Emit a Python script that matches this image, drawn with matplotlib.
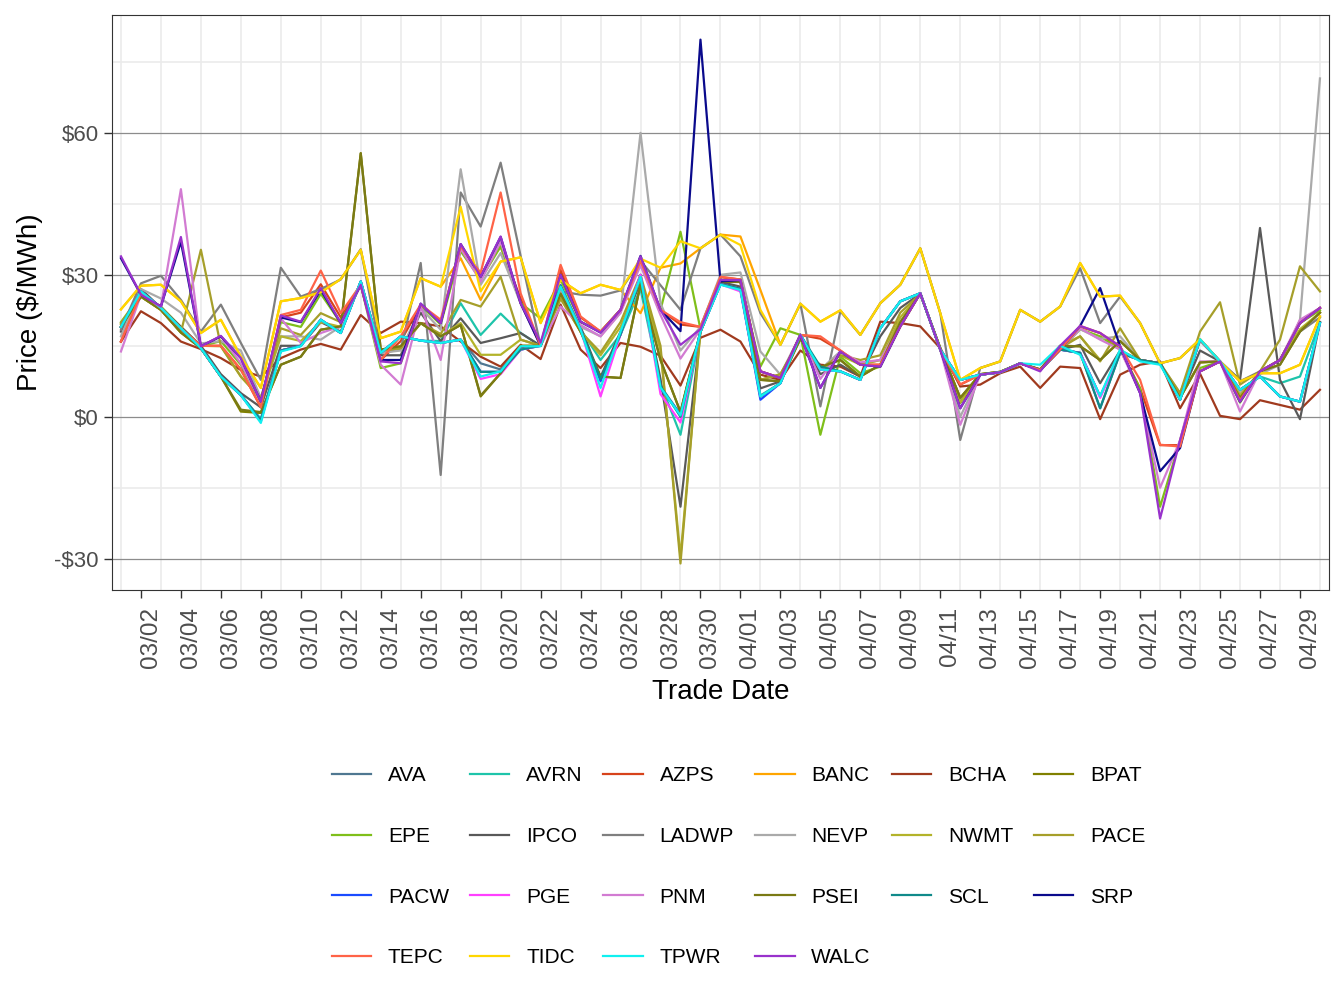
import numpy as np
import pandas as pd
import matplotlib
matplotlib.use("Agg")
import matplotlib.pyplot as plt
import matplotlib.dates as mdates
import matplotlib.transforms as mtransforms

plt.rcParams['font.family'] = ['Liberation Sans', 'DejaVu Sans']

# trade dates, one value per day (03/01 .. 04/30)
dates = pd.date_range("2023-03-01", "2023-04-30")

# daily prices ($/MWh)
AVA = [19, 26.5, 23, 18.7, 14.5, 8.5, 4.6, -0.5, 14, 15,
       20.5, 17.7, 28.6, 13.5, 17, 16.1, 15.6, 16.3, 11.3, 10,
       14.5, 15, 27.5, 18.5, 8, 17.4, 29.5, 6.5, 0.5, 18,
       28, 27, 4.3, 7.1, 17.3, 10, 9.6, 7.8, 18.7, 24.4,
       26.1, 14.2, 7.8, 8.9, 9.4, 11.3, 9.9, 14.2, 13.5, 1.8,
       13.5, 12, 11.3, 3.6, 16.3, 11.7, 5.7, 8.5, 4.3, 3.2, 19.8]
AVRN = [19, 26.5, 23, 18.7, 14.5, 8.5, 4.6, -0.5, 14, 15,
        20.5, 17.7, 28.6, 13.5, 17, 16.1, 16, 24, 17.3, 21.8,
        17.7, 15, 27, 18.5, 12, 17.4, 27, 7, -3.8, 18,
        28, 27, 4.5, 7.1, 17.3, 10, 9.6, 7.8, 18.7, 24.4,
        26.1, 14.2, 7.8, 8.9, 9.4, 11.3, 9.9, 14.2, 13.5, 4.3,
        13.5, 12, 11.3, 3.6, 16.3, 11.7, 5.7, 8.5, 7.1, 8.5, 20]
AZPS = [15.9, 26, 23, 18.7, 15, 15, 10, 2, 21, 22,
        28, 21, 27.9, 12, 16, 23.5, 20, 35.5, 30, 36,
        25, 15, 31, 21, 18, 22.6, 33, 22.6, 19.5, 19,
        29.5, 29, 9.6, 8.2, 17.3, 16.5, 14, 11, 11, 19.1,
        26.1, 14.2, 6.8, 8.9, 9.4, 11.3, 9.9, 14.2, 19, 17.7,
        14.2, 6, -6, -6, 9.6, 11.7, 3.5, 9.6, 12, 19.8, 23]
BANC = [22.7, 27.7, 27.9, 24.4, 17.7, 20.5, 12.7, 6.1, 24.4, 25.1,
        26.3, 29.1, 35.3, 16.6, 18, 29.3, 27.5, 33.5, 24.7, 32.8,
        33.7, 19.8, 28.9, 26.1, 27.9, 26.8, 21.9, 31.5, 32.4, 35.6,
        38.5, 38.1, 26.8, 15.2, 23.9, 20.1, 22.5, 17.3, 24, 27.9,
        35.6, 21.9, 7.8, 10.3, 11.7, 22.6, 20.1, 23.3, 32.5, 25.4,
        25.6, 19.8, 11.3, 12.4, 16.4, 11.7, 7.5, 9.2, 9.2, 11, 21.2]
BCHA = [15.9, 22.3, 19.8, 15.9, 14.3, 12.4, 9.9, 8.5, 12.4, 14.2,
        15.4, 14.2, 21.5, 17.7, 20.1, 19.8, 19.1, 15.9, 12.7, 10.6,
        15.2, 12.2, 23.7, 14.2, 10.3, 15.6, 14.8, 12.9, 6.6, 16.7,
        18.4, 15.9, 8.9, 7.8, 14, 11, 10.6, 8.5, 20.1, 19.8,
        19.1, 14.5, 6.4, 6.8, 9.2, 10.6, 6.1, 10.6, 10.3, -0.5,
        8.9, 11, 11.7, 1.8, 9.1, 0.2, -0.5, 3.5, 2.5, 1.5, 5.7]
BPAT = [19, 25.4, 22.6, 17.8, 14.5, 8.5, 1.1, 0.8, 11, 12.7,
        18.4, 19.1, 55.7, 14.2, 14.9, 19.8, 17, 19.4, 4.3, 9.2,
        15, 15, 26, 18, 8.5, 8.2, 28, 12, 1, 18,
        28.5, 28.5, 7.8, 7.5, 16.5, 10.5, 12, 8.5, 11, 20,
        26, 14.5, 4, 9, 9.5, 11.3, 10, 15, 14.9, 12,
        16, 12, 11.3, 4, 11.5, 11.7, 4, 9.6, 11, 18, 22]
EPE = [20, 25.8, 23.3, 19, 14.9, 16, 11, 3.2, 20, 19,
       26, 19.8, 27.9, 10.3, 11.3, 23.5, 19.5, 35, 29, 36,
       24, 20.8, 29, 20, 18, 22.6, 33, 22.6, 39.1, 18.5,
       28.5, 28.5, 10.6, 18.7, 17.3, -3.8, 12.7, 9.2, 10.6, 19.1,
       26.1, 14.2, 3, 8.9, 9.4, 11.3, 9.9, 14.2, 18.5, 17,
       14.2, 6, -19, -5, 10.3, 11.7, 3, 9.6, 12, 19.8, 22.5]
IPCO = [18, 27, 23, 19, 15, 9, 5, 2, 15, 15,
        20, 18, 28.5, 13, 13, 22, 16, 20.8, 15.6, 16.6,
        17.7, 15, 27, 19, 8.4, 18, 28.5, 8, -19, 18,
        28.5, 27.5, 6, 7.5, 17.3, 9, 11, 8.5, 17, 23,
        26, 14.2, 3, 8.9, 9.4, 11.3, 9.9, 14.2, 15.2, 7.1,
        14, 12, 11.3, 4, 14, 11.7, 7.8, 39.9, 7.8, -0.5, 20]
LADWP = [18.4, 28.2, 29.8, 24.7, 18, 23.7, 15.6, 7.8, 31.5, 25.4,
         27, 29, 35.4, 13.5, 14.2, 32.5, -12.3, 47.4, 40.2, 53.7,
         34, 15, 26.5, 25.8, 25.6, 26.7, 33, 27.8, 22.6, 35.6,
         38.5, 33.9, 21.9, 15.2, 23.9, 2.2, 22.3, 17.3, 24, 27.9,
         35.6, 21.9, -4.9, 10.3, 11.7, 22.6, 20.1, 23.3, 31.4, 19.8,
         25.4, 19.8, 11.3, 12.4, 16.3, 11.7, 7.5, 9.6, 12, 18, 21]
NEVP = [17, 27, 25, 22, 15.5, 16, 14, 4, 17, 17,
        16.3, 19.1, 28, 13.5, 14, 23, 18.4, 52.3, 27.9, 34.6,
        24, 15, 27, 19, 17, 22, 60, 24, 14, 19,
        30, 30.5, 13.8, 8.9, 17.3, 10, 13.8, 11, 12, 20,
        26, 14.5, 0, 8.9, 9.4, 11.3, 9.9, 14.2, 18.5, 16.5,
        17, 12, 11.3, 5, 16, 11.7, 5, 9, 11, 20.5, 71.5]
NWMT = [19.5, 25.4, 22.6, 17.8, 15, 14.9, 8.5, 3.9, 17, 16,
        20, 19, 28, 14, 14.5, 19.8, 17, 19.8, 13.1, 13.1,
        16.3, 15, 25, 18, 13, 19, 29, 14, -29.5, 18,
        28.5, 29, 7.8, 9, 16.5, 10, 13, 11, 12, 21,
        26, 14.5, 3, 9, 9.5, 11.3, 10, 15, 17, 12,
        16, 12, 11.3, 4, 11.5, 11.7, 4.5, 9.6, 12, 18.5, 22]
PACE = [19.8, 25.4, 22.6, 17.8, 35.3, 14.9, 8.5, 3.9, 18.7, 17.3,
        21.9, 20, 28, 14, 14.5, 19.8, 17.5, 24.7, 23.3, 29.6,
        16.3, 15, 25, 18, 13.6, 20, 30, 15, -31, 18.5,
        28.5, 29, 7.8, 9, 16.5, 10, 13, 12, 13, 22,
        26, 14.5, 3.9, 9, 9.5, 11.3, 10, 14.5, 17, 11.7,
        18.7, 12, 11.3, 5, 18, 24.2, 6.8, 9.6, 16.3, 31.8, 26.5]
PACW = [19, 26.5, 23, 18.7, 14.5, 8.5, 4.6, -0.8, 14, 15,
        20.5, 17.7, 28.6, 13.5, 17, 16.1, 15.6, 16.3, 9.5, 9.5,
        14.2, 15, 27.8, 18.5, 7.5, 17.4, 30, 6, 0.5, 18,
        28, 27, 3.6, 7.1, 17.3, 10, 9.6, 7.8, 18.7, 24.4,
        26.1, 14.2, 7.8, 8.9, 9.4, 11.3, 9.9, 14.2, 13.5, 4.3,
        13.5, 12, 11.3, 3.6, 16.3, 11.7, 5.7, 8.5, 4.3, 3.2, 19.8]
PGE = [19, 26.5, 23, 18.7, 14.5, 8.5, 4.6, -1, 14, 15,
       20.5, 17.7, 28.6, 13.5, 17, 16.1, 15.6, 16.3, 8, 9,
       14.2, 15, 27.8, 18.5, 4.3, 17.4, 30, 4.8, -1.2, 18,
       28, 26.5, 4.3, 7.1, 17.3, 10, 9.6, 7.8, 18.7, 24.4,
       26.1, 14.2, 7.8, 8.9, 9.4, 11.3, 9.9, 14.2, 13.5, 4,
       13.5, 12, 11.3, 3.6, 16.3, 11.7, 5.7, 8.5, 4.3, 3.2, 19.8]
PNM = [13.8, 25.8, 23.3, 48.1, 14.9, 17, 11.3, 3.2, 20.8, 15.6,
       17.7, 19.1, 27.9, 11, 6.8, 23.3, 12, 35.6, 28.6, 37,
       24, 15, 23.3, 19.4, 17, 22, 32, 21.5, 12.3, 18.5,
       28.5, 28.5, 9.6, 8.2, 17.3, 8, 13.8, 11.5, 12, 19.5,
       26.1, 14.2, -1.7, 8.9, 9.4, 11.3, 9.9, 14.2, 18.7, 16.3,
       14.2, 5, -15, -5, 11.7, 11.7, 1.1, 9.6, 12, 20.5, 23]
PSEI = [19, 25.4, 22.6, 17.8, 14.5, 8.5, 1.5, 1, 11, 12.7,
        18.4, 19.1, 55.7, 14.2, 14.9, 19.8, 17, 19.4, 4.5, 9.2,
        15, 15, 26, 18, 8.5, 8.2, 28, 12, 1, 18,
        28.5, 28.5, 7.8, 7.5, 16.5, 10.5, 12, 8.5, 11, 20,
        26, 14.5, 4, 9, 9.5, 11.3, 10, 15, 14.9, 12,
        16, 12, 11.3, 4, 11.5, 11.7, 4, 9.6, 11, 18, 22]
SCL = [19, 26.5, 23, 18.7, 14.5, 8.5, 4.6, -0.8, 14, 15,
       20.5, 17.7, 28.6, 13.5, 17, 16.1, 15.6, 16.3, 9.5, 9.5,
       14.2, 15, 27.8, 18.5, 8, 17.4, 29.5, 6.5, 0, 18,
       28, 27, 4.3, 7.1, 17.3, 10.6, 9.6, 7.8, 18.7, 24.4,
       26.1, 14.2, 7.8, 8.9, 9.4, 11.3, 9.9, 14.2, 13.5, 1.8,
       13.5, 12, 11.3, 3.6, 16.3, 11.7, 5.7, 8.5, 4.3, 3.2, 19.8]
SRP = [33.5, 25.8, 23.3, 37, 14.9, 17, 12.4, 3.2, 21, 20,
       26.8, 19.8, 27.9, 12, 12, 23.9, 19.8, 36.5, 29.6, 38,
       24, 15, 30, 20.1, 17.8, 22.6, 34, 22.6, 18.1, 79.7,
       28.6, 28.9, 9.6, 8.2, 17.3, 6.1, 13.8, 11, 10.6, 19.1,
       26.1, 14.2, 1.8, 8.9, 9.4, 11.3, 9.9, 14.2, 19.2, 27.2,
       14.9, 5, -11.5, -6.6, 9.6, 11.7, 3.2, 9.6, 12, 19.8, 23]
TEPC = [15.9, 26.1, 23, 18.7, 15, 15, 10, 2, 21.5, 22.6,
        30.9, 21.9, 27.9, 12, 17, 23.7, 20.5, 36, 30.4, 47.4,
        26.1, 15, 32.1, 21.2, 18, 22.6, 33, 22.6, 20, 19,
        29.6, 29, 9.6, 8.2, 17.3, 17, 14, 11, 11, 19.1,
        26.1, 14.2, 6.8, 8.9, 9.4, 11.3, 9.9, 14.2, 19.2, 17.7,
        14.9, 7.8, -5.9, -6.3, 9.6, 11.7, 3.5, 9.6, 12, 19.8, 23]
TIDC = [22.7, 27.7, 27.9, 24.4, 17.7, 20.5, 12.7, 6.1, 24.4, 25.1,
        26.3, 29.1, 35.3, 16.6, 18, 29.3, 27.5, 44.4, 26.5, 32.8,
        33.7, 19.8, 28.9, 26.1, 27.9, 26.8, 33.4, 31.5, 37.1, 35.6,
        38.5, 36.3, 22.6, 15.2, 23.9, 20.1, 22.5, 17.3, 24, 27.9,
        35.6, 21.9, 7.8, 10.3, 11.7, 22.6, 20.1, 23.3, 32.5, 25.4,
        25.6, 19.8, 11.3, 12.4, 16.4, 11.7, 7.5, 9.2, 9.2, 11, 21.2]
TPWR = [19, 26.5, 23, 18.7, 14.5, 8.5, 4.6, -1.3, 13.8, 14.9,
        20.5, 17.7, 28.6, 13.5, 17, 16.1, 15.6, 16.3, 8.5, 9.6,
        14.9, 14.9, 27.5, 18.4, 6.1, 18, 29.6, 6.2, 0.3, 18,
        27.9, 26.8, 4.3, 7.1, 17.3, 10, 9.6, 7.8, 18.7, 24.4,
        26.1, 14.2, 7.8, 8.9, 9.4, 11.3, 11, 15, 13.1, 4.4,
        14.2, 11.7, 11, 3.6, 16.4, 11.7, 5.7, 8.5, 4.3, 3.2, 19.8]
WALC = [33.9, 25.8, 23.3, 38, 14.9, 17.1, 12.4, 3.2, 21.4, 20.1,
        27.2, 19.8, 27.9, 11.7, 11.3, 23.9, 19.8, 36.5, 29.6, 38.1,
        24, 15.7, 30, 20.1, 17.8, 22.6, 33.9, 22.6, 15.2, 18.5,
        28.9, 28.9, 9.6, 8.2, 17.3, 6.1, 13.8, 11, 10.6, 19.1,
        26.1, 14.2, 1.8, 8.9, 9.4, 11.3, 9.6, 15, 19.2, 17.7,
        14.9, 5, -21.5, -4.9, 9.6, 11.7, 3.2, 9.6, 12, 19.8, 23]

series = {
    "AVA": (AVA, "#4F7791"), "AVRN": (AVRN, "#1EC4AA"), "AZPS": (AZPS, "#D7431B"),
    "BANC": (BANC, "#FFA500"), "BCHA": (BCHA, "#A03A1E"), "BPAT": (BPAT, "#808000"),
    "EPE": (EPE, "#7FBF1A"), "IPCO": (IPCO, "#595959"), "LADWP": (LADWP, "#7F7F7F"),
    "NEVP": (NEVP, "#AAAAAA"), "NWMT": (NWMT, "#B3B32A"), "PACE": (PACE, "#A69F2A"),
    "PACW": (PACW, "#1A4BFF"), "PGE": (PGE, "#FF40FF"), "PNM": (PNM, "#D27BD2"),
    "PSEI": (PSEI, "#7A7A14"), "SCL": (SCL, "#108A8A"), "SRP": (SRP, "#0A0A8C"),
    "TEPC": (TEPC, "#FF6347"), "TIDC": (TIDC, "#FFD700"), "TPWR": (TPWR, "#10F0F0"),
    "WALC": (WALC, "#9932CC"),
}

fig = plt.figure(figsize=(13.44, 10.08), dpi=100)
ax = fig.add_axes([0.0833, 0.4147, 0.9055, 0.5704])

for name, (vals, col) in series.items():
    ax.plot(dates, vals, color=col, lw=1.6, label=name)

x0 = mdates.date2num(dates[0])
x1 = mdates.date2num(dates[-1])
ax.set_xlim(x0 - 0.45, x1 + 0.45)
ax.set_ylim(-36.6, 84.9)

ax.set_yticks([-30, 0, 30, 60])
ax.set_yticklabels(["-\\$30", "\\$0", "\\$30", "\\$60"])
ax.set_yticks([-15, 15, 45, 75], minor=True)
ax.set_xticks(dates[1::2])
ax.set_xticklabels([d.strftime("%m/%d") for d in dates[1::2]], rotation=90)
ax.set_xticks(dates[0::2], minor=True)

ax.grid(which="minor", color="#EBEBEB", lw=1.2)
ax.grid(which="major", axis="y", color="#8C8C8C", lw=0.9)
ax.set_axisbelow(True)

ax.tick_params(which="major", length=5.5, width=1.0, color="#333333", labelcolor="#4D4D4D")
ax.tick_params(axis="y", which="major", labelsize=16, pad=4)
ax.tick_params(axis="x", which="major", labelsize=17.5, pad=7)
ax.tick_params(which="minor", length=0)
for s in ax.spines.values():
    s.set_color("#333333")
    s.set_linewidth(0.8)

# ggplot-like placement: rotated labels sit just right of the tick
shift = mtransforms.ScaledTranslation(0.10, 0, fig.dpi_scale_trans)
for lab in ax.get_xticklabels():
    lab.set_transform(lab.get_transform() + shift)

ax.set_xlabel("Trade Date", fontsize=20, labelpad=8)
ax.set_ylabel("Price (\\$/MWh)", fontsize=20, labelpad=8)

# legend filled row by row like ggplot
handles, labels = ax.get_legend_handles_labels()
order = [c + 6 * r for c in range(6) for r in range(4) if c + 6 * r < len(labels)]
fig.legend([handles[i] for i in order], [labels[i] for i in order], ncol=6,
           loc="center", bbox_to_anchor=(0.5495, 0.140), frameon=False, fontsize=15,
           handlelength=1.9, handletextpad=0.8, columnspacing=1.0, labelspacing=2.0)

fig.savefig("out.png", dpi=100)
